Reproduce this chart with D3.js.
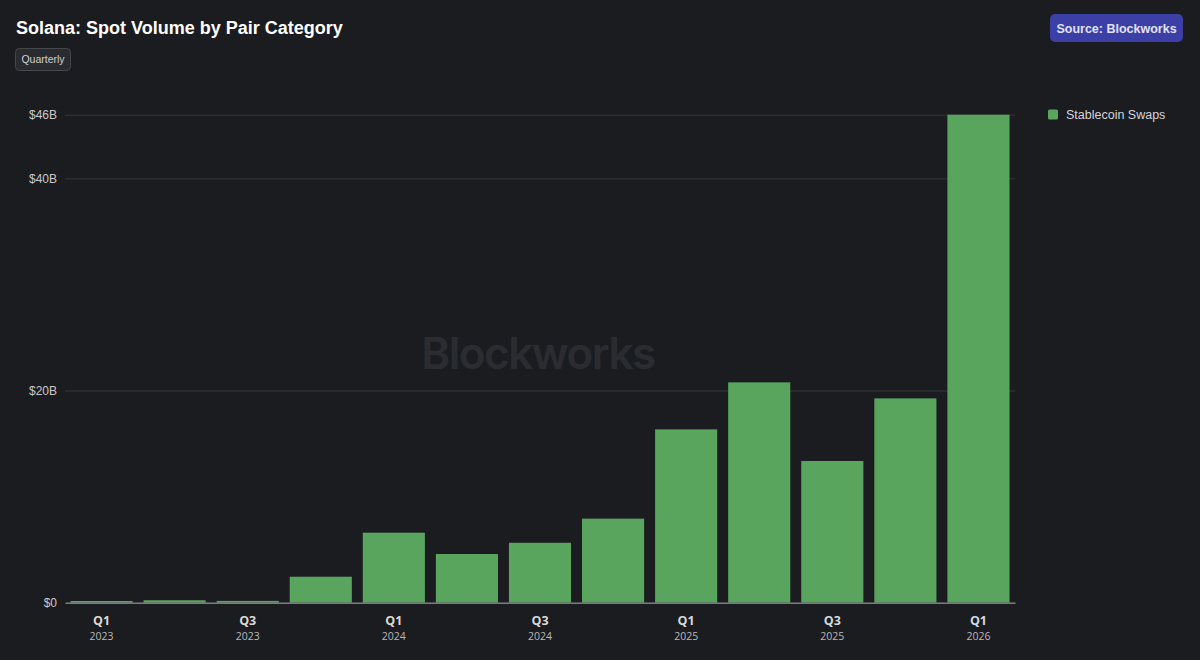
<!DOCTYPE html>
<html>
<head>
<meta charset="utf-8">
<script src="https://cdn.jsdelivr.net/npm/d3@7"></script>
<style>
  html, body { margin: 0; padding: 0; background: #1b1c20; }
  svg { display: block; font-family: "Liberation Sans", Arial, sans-serif; }
</style>
</head>
<body>
<svg id="chart" width="1200" height="660"></svg>
<script>
// quarters and stablecoin swap volume ($B)
const quarters = ['Q1 2023', 'Q2 2023', 'Q3 2023', 'Q4 2023',
                  'Q1 2024', 'Q2 2024', 'Q3 2024', 'Q4 2024',
                  'Q1 2025', 'Q2 2025', 'Q3 2025', 'Q4 2025', 'Q1 2026'];
const stableSwaps = [0.16, 0.23, 0.17, 2.45, 6.6, 4.59, 5.65, 7.92, 16.34, 20.77, 13.36, 19.26, 46];
const yTicks = [0, 20, 40, 46];

const width = 1200;
const height = 660;
const margin = { top: 114.7, right: 185, bottom: 57.3, left: 65 };

const svg = d3.select('#chart');

svg.append('rect')
    .attr('width', width)
    .attr('height', height)
    .attr('fill', '#1b1c20');

const x = d3.scaleBand()
    .domain(quarters)
    .range([margin.left, width - margin.right])
    .paddingInner(0.15)
    .paddingOuter(0.075);

const y = d3.scaleLinear()
    .domain([0, 46])
    .range([height - margin.bottom, margin.top]);

// watermark
svg.append('text')
    .attr('x', 538)
    .attr('y', 369)
    .attr('text-anchor', 'middle')
    .attr('font-size', 44)
    .attr('font-weight', 600)
    .attr('font-family', 'Inter, "Liberation Sans", sans-serif')
    .attr('letter-spacing', -1.5)
    .attr('fill', '#2b2c31')
    .text('Blockworks');

// gridlines
svg.append('g')
    .attr('transform', `translate(${margin.left},0)`)
    .call(d3.axisLeft(y).tickValues(yTicks).tickFormat('').tickSize(-(width - margin.right - margin.left)))
    .call(g => g.select('.domain').remove())
    .call(g => g.selectAll('line').attr('stroke', '#35363b').attr('stroke-width', 1));

// y labels
svg.append('g')
    .attr('transform', `translate(${margin.left},0)`)
    .call(d3.axisLeft(y).tickValues(yTicks).tickSize(0).tickPadding(8)
        .tickFormat(d => d === 0 ? '$0' : `$${d}B`))
    .call(g => g.select('.domain').remove())
    .call(g => g.selectAll('text')
        .attr('fill', '#c8c8cc')
        .attr('font-size', 12)
        .attr('font-family', '"Liberation Sans", Arial, sans-serif'));

// bars
svg.append('g')
    .selectAll('rect')
    .data(quarters)
    .join('rect')
    .attr('x', d => x(d))
    .attr('width', x.bandwidth())
    .attr('y', (d, i) => y(stableSwaps[i]))
    .attr('height', (d, i) => y(0) - y(stableSwaps[i]))
    .attr('fill', '#59a55d');

// x axis
svg.append('g')
    .attr('transform', `translate(0,${y(0)})`)
    .call(d3.axisBottom(x).tickSize(0).tickFormat(''))
    .call(g => g.select('.domain').attr('stroke', '#7a7a80').attr('stroke-width', 1.5));

const labelled = quarters.filter((d, i) => i % 2 === 0);
const xl = svg.append('g').selectAll('g')
    .data(labelled)
    .join('g')
    .attr('transform', d => `translate(${x(d) + x.bandwidth() / 2},${y(0)})`);

xl.append('text')
    .attr('y', 22)
    .attr('text-anchor', 'middle')
    .attr('font-size', 12.5)
    .attr('font-weight', 'bold')
    .attr('font-family', '"Open Sans", sans-serif')
    .attr('fill', '#d8d8dc')
    .text(d => d.split(' ')[0]);

xl.append('text')
    .attr('y', 37)
    .attr('text-anchor', 'middle')
    .attr('font-size', 10.5)
    .attr('font-family', '"Open Sans", sans-serif')
    .attr('fill', '#b8b8bc')
    .text(d => d.split(' ')[1]);

// title
svg.append('text')
    .attr('x', 16)
    .attr('y', 34)
    .attr('font-size', 18)
    .attr('font-weight', 'bold')
    .attr('fill', '#ffffff')
    .text('Solana: Spot Volume by Pair Category');

// quarterly chip
svg.append('rect')
    .attr('x', 15.5).attr('y', 48.5)
    .attr('width', 55).attr('height', 22)
    .attr('rx', 4)
    .attr('fill', '#2a2b30')
    .attr('stroke', '#46474d');
svg.append('text')
    .attr('x', 43).attr('y', 63)
    .attr('text-anchor', 'middle')
    .attr('font-size', 10.5)
    .attr('fill', '#d0d0d4')
    .text('Quarterly');

// source badge
svg.append('rect')
    .attr('x', 1050).attr('y', 14)
    .attr('width', 133).attr('height', 28)
    .attr('rx', 5)
    .attr('fill', '#3b3fa6');
svg.append('text')
    .attr('x', 1116.5).attr('y', 32.5)
    .attr('text-anchor', 'middle')
    .attr('font-size', 12.5)
    .attr('font-weight', 'bold')
    .attr('fill', '#e2e2f8')
    .text('Source: Blockworks');

// legend
svg.append('rect')
    .attr('x', 1048).attr('y', 109.5)
    .attr('width', 10).attr('height', 10)
    .attr('rx', 1.5)
    .attr('fill', '#59a55d');
svg.append('text')
    .attr('x', 1066).attr('y', 119)
    .attr('font-size', 12.5)
    .attr('fill', '#d4d4d8')
    .text('Stablecoin Swaps');
</script>
</body>
</html>
